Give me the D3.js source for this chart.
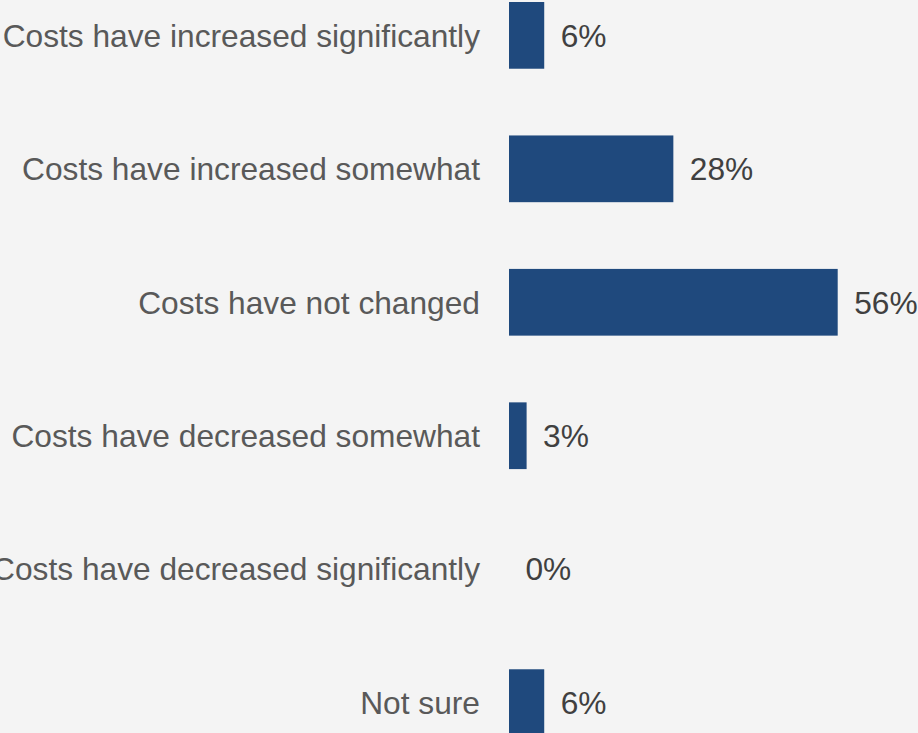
<!DOCTYPE html>
<html>
<head>
<meta charset="utf-8">
<script src="https://cdn.jsdelivr.net/npm/d3@7"></script>
<style>
  html, body { margin: 0; padding: 0; background: #f4f4f4; }
  svg { display: block; }
</style>
</head>
<body>
<svg id="chart" width="918" height="733"></svg>
<script>
// Survey responses: how costs have changed
const categories = [
  "Costs have increased significantly",
  "Costs have increased somewhat",
  "Costs have not changed",
  "Costs have decreased somewhat",
  "Costs have decreased significantly",
  "Not sure"
];
const values = [6, 28, 56, 3, 0, 6];
const valueLabels = ["6%", "28%", "56%", "3%", "0%", "6%"];

const data = categories.map((c, i) => ({ category: c, value: values[i], label: valueLabels[i] }));

const svg = d3.select("#chart");
const W = 918, H = 733;

svg.append("rect").attr("width", W).attr("height", H).attr("fill", "#f4f4f4");

const x = d3.scaleLinear().domain([0, 56]).range([509, 837.7]);
const y = d3.scaleBand().domain(categories).range([2, 736]).paddingInner(0.5).paddingOuter(0);

const font = "'Liberation Sans', Arial, sans-serif";
const fontSize = 31.7;

// bars
svg.append("g").selectAll("rect")
  .data(data)
  .join("rect")
  .attr("x", x(0))
  .attr("y", d => y(d.category))
  .attr("width", d => x(d.value) - x(0))
  .attr("height", y.bandwidth())
  .attr("fill", "#1f497d");

// category labels
svg.append("g").selectAll("text")
  .data(data)
  .join("text")
  .attr("x", 480)
  .attr("y", d => y(d.category) + y.bandwidth() / 2)
  .attr("dy", "0.355em")
  .attr("text-anchor", "end")
  .attr("font-family", font)
  .attr("font-size", fontSize)
  .attr("fill", "#595959")
  .text(d => d.category);

// value labels
svg.append("g").selectAll("text")
  .data(data)
  .join("text")
  .attr("x", d => x(d.value) + 16.5)
  .attr("y", d => y(d.category) + y.bandwidth() / 2)
  .attr("dy", "0.355em")
  .attr("text-anchor", "start")
  .attr("font-family", font)
  .attr("font-size", fontSize)
  .attr("fill", "#404040")
  .text(d => d.label);
</script>
</body>
</html>
